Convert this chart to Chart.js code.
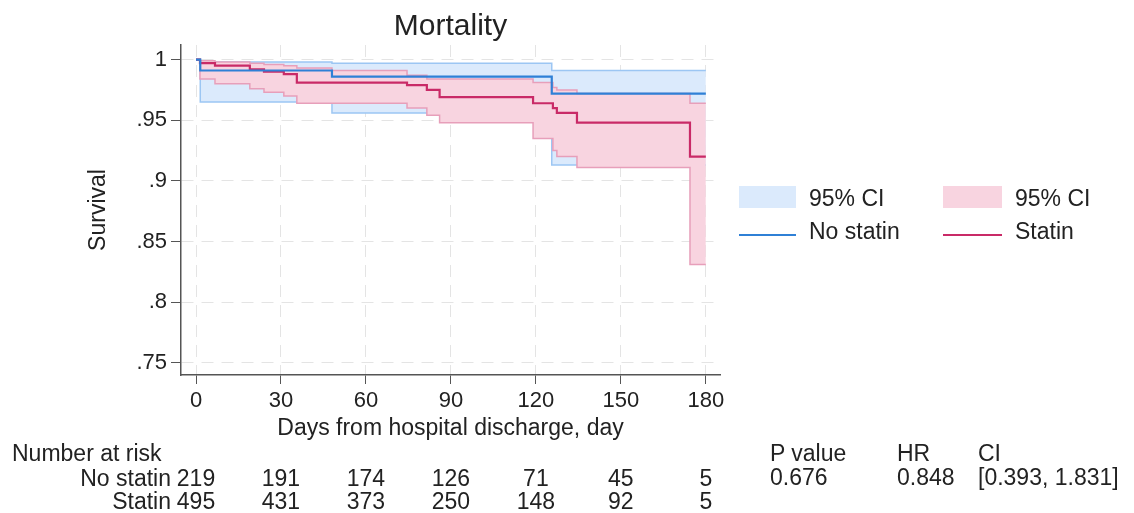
<!DOCTYPE html>
<html>
<head>
<meta charset="utf-8">
<script src="https://cdn.jsdelivr.net/npm/chart.js@4.4.1/dist/chart.umd.min.js"></script>
<style>
  body { margin: 0; background: #fff; }
  #wrap { position: relative; width: 1134px; height: 513px; font-family: "Liberation Sans", Arial, sans-serif; color: #222; }
  #chart { position: absolute; left: 0; top: 0; }
  .txt { position: absolute; white-space: nowrap; line-height: 1.2; }
  .box { position: absolute; }
</style>
</head>
<body>
<div id="wrap">
  <canvas id="chart" width="1134" height="513"></canvas>
</div>
<script>
// axis ticks
var xTicks = [0, 30, 60, 90, 120, 150, 180];
var yTicks = [0.75, 0.8, 0.85, 0.9, 0.95, 1];
var yTickLabels = ['.75', '.8', '.85', '.9', '.95', '1'];

// Kaplan-Meier estimates
var noStatinDays = [0, 1.5, 48, 125.6, 180];
var noStatinSurv = [1, 0.991, 0.986, 0.972, 0.972];
var noStatinLow  = [1, 0.965, 0.956, 0.913, 0.913];
var noStatinHigh = [1, 0.998, 0.997, 0.991, 0.991];

var statinDays = [0, 1.4, 6.7, 19, 24, 31, 35.6, 48, 74.5, 81.5, 86, 119, 126, 127.4, 134.5, 174.4, 180];
var statinSurv = [1, 0.997, 0.995, 0.992, 0.990, 0.988, 0.981, 0.981, 0.979, 0.975, 0.969, 0.964, 0.960, 0.956, 0.948, 0.920, 0.920];
var statinLow  = [1, 0.984, 0.980, 0.976, 0.973, 0.970, 0.964, 0.964, 0.960, 0.954, 0.948, 0.935, 0.925, 0.920, 0.911, 0.831, 0.831];
var statinHigh = [1, 0.999, 0.998, 0.997, 0.996, 0.995, 0.993, 0.991, 0.987, 0.984, 0.984, 0.981, 0.977, 0.975, 0.972, 0.964, 0.964];

// number at risk table + test results
var groups = ['No statin', 'Statin'];
var atRiskNoStatin = [219, 191, 174, 126, 71, 45, 5];
var atRiskStatin = [495, 431, 373, 250, 148, 92, 5];
var statHeaders = ['P value', 'HR', 'CI'];
var statValues = ['0.676', '0.848', '[0.393, 1.831]'];

var FONT = '"Liberation Sans", Arial, sans-serif';
var TXT = '#222';
var blueLine = '#2f80d6', blueFill = '#dbeafc', blueEdge = '#9cc6f3';
var redLine = '#c92a67', redFill = '#f8d4e0', redEdge = '#e79fba';

function pts(xs, ys) {
  var out = [];
  for (var i = 0; i < xs.length; i++) out.push({x: xs[i], y: ys[i]});
  return out;
}

var datasets = [
  {label: '95% CI', data: pts(noStatinDays, noStatinHigh), borderColor: blueEdge, backgroundColor: blueFill, borderWidth: 1.5, fill: 1, order: 6},
  {label: 'no statin low', data: pts(noStatinDays, noStatinLow), borderColor: blueEdge, borderWidth: 1.5, fill: false, order: 5},
  {label: '95% CI', data: pts(statinDays, statinHigh), borderColor: redEdge, backgroundColor: redFill, borderWidth: 1.5, fill: 3, order: 4},
  {label: 'statin low', data: pts(statinDays, statinLow), borderColor: redEdge, borderWidth: 1.5, fill: false, order: 3},
  {label: 'No statin', data: pts(noStatinDays, noStatinSurv), borderColor: blueLine, borderWidth: 2.2, fill: false, order: 1},
  {label: 'Statin', data: pts(statinDays, statinSurv), borderColor: redLine, borderWidth: 2.2, fill: false, order: 2}
];
datasets.forEach(function(d) { d.stepped = 'before'; d.pointRadius = 0; d.tension = 0; });

var chart = new Chart(document.getElementById('chart'), {
  type: 'line',
  data: {datasets: datasets},
  options: {
    responsive: false,
    animation: false,
    devicePixelRatio: 1,
    layout: {padding: {left: 81, right: 414, top: 0, bottom: 68}},
    plugins: {
      legend: {display: false},
      tooltip: {enabled: false},
      title: {
        display: true, text: 'Mortality', fullSize: false, color: TXT,
        font: {family: FONT, size: 30, weight: 'normal'},
        padding: {top: 9, bottom: 0}
      }
    },
    scales: {
      x: {
        type: 'linear', min: -5.3, max: 185,
        afterBuildTicks: function(s) { s.ticks = xTicks.map(function(v) { return {value: v}; }); },
        afterFit: function(s) { s.height = 70; },
        grid: {color: '#e4e4e4', tickColor: '#555', tickLength: 9, lineWidth: 1},
        border: {color: '#555', width: 1.5, dash: [12, 8]},
        ticks: {color: TXT, font: {family: FONT, size: 22}, padding: 4, maxRotation: 0},
        title: {display: true, text: 'Days from hospital discharge, day', color: TXT,
                font: {family: FONT, size: 23}, padding: {top: 4, bottom: 3}}
      },
      y: {
        min: 0.74, max: 1.012,
        afterBuildTicks: function(s) { s.ticks = yTicks.map(function(v) { return {value: v}; }); },
        afterFit: function(s) { s.width = 100; },
        grid: {color: '#e4e4e4', tickColor: '#555', tickLength: 10, lineWidth: 1},
        border: {color: '#555', width: 1.5, dash: [12, 8]},
        ticks: {color: TXT, font: {family: FONT, size: 22}, padding: 4,
                callback: function(v, i) { return yTickLabels[i]; }},
        title: {display: true, text: 'Survival', color: TXT,
                font: {family: FONT, size: 23}, padding: {top: 4, bottom: 4}}
      }
    }
  }
});

// html legend and table
var wrap = document.getElementById('wrap');
function addText(str, x, cy, size, align) {
  var d = document.createElement('div');
  d.className = 'txt';
  d.innerText = str;
  d.style.fontSize = size + 'px';
  d.style.top = (cy - size * 0.59) + 'px';
  if (align == 'right') { d.style.right = (1134 - x) + 'px'; }
  else if (align == 'center') { d.style.left = x + 'px'; d.style.transform = 'translateX(-50%)'; }
  else { d.style.left = x + 'px'; }
  wrap.appendChild(d);
}
function addBox(x, y, w, h, color) {
  var b = document.createElement('div');
  b.className = 'box';
  b.style.left = x + 'px'; b.style.top = y + 'px';
  b.style.width = w + 'px'; b.style.height = h + 'px';
  b.style.background = color;
  wrap.appendChild(b);
}

// legend
addBox(739, 186, 57, 22, blueFill);
addText('95% CI', 809, 199, 23);
addBox(739, 234, 57, 2, blueLine);
addText(groups[0], 809, 232, 23);
addBox(943, 186, 59, 22, redFill);
addText('95% CI', 1015, 199, 23);
addBox(943, 234, 59, 2, redLine);
addText(groups[1], 1015, 232, 23);

// number at risk, columns follow the x scale
var xs = chart.scales.x;
addText('Number at risk', 12, 454, 23);
addText(groups[0], 171, 479, 23, 'right');
addText(groups[1], 171, 502, 23, 'right');
for (var i = 0; i < xTicks.length; i++) {
  var px = xs.getPixelForValue(xTicks[i]);
  addText(String(atRiskNoStatin[i]), px, 479, 23, 'center');
  addText(String(atRiskStatin[i]), px, 502, 23, 'center');
}

// test results
var statX = [770, 897, 978];
for (var j = 0; j < statHeaders.length; j++) {
  addText(statHeaders[j], statX[j], 454, 23);
  addText(statValues[j], statX[j], 478, 23);
}
</script>
</body>
</html>
